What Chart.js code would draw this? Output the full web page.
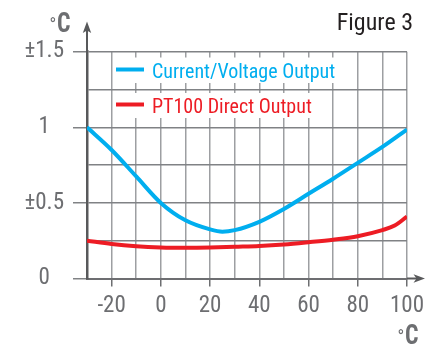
<!DOCTYPE html>
<html><head><meta charset="utf-8">
<script src="https://cdn.jsdelivr.net/npm/chart.js@4.4.1/dist/chart.umd.min.js"></script>
<style>html,body{margin:0;padding:0;background:#fff;overflow:hidden}#wrap{width:430px;height:345px;position:relative}</style>
</head><body><div id="wrap"><canvas id="c" width="430" height="345"></canvas></div>
<script>
// ---- data ----
const blueTemps = [-30, -20, -10, 0, 10, 20, 25, 30, 40, 50, 60, 70, 80, 90, 100];
const currentVoltageError = [1.0, 0.85, 0.675, 0.5, 0.385, 0.325, 0.31, 0.32, 0.375, 0.46, 0.56, 0.66, 0.765, 0.87, 0.985];
const redTemps = [-30, -20, -10, 0, 10, 20, 30, 40, 50, 60, 70, 80, 90, 95, 100];
const pt100Error = [0.25, 0.228, 0.213, 0.205, 0.203, 0.205, 0.21, 0.215, 0.225, 0.24, 0.257, 0.28, 0.32, 0.35, 0.41];
const seriesNames = ['Current/Voltage Output', 'PT100 Direct Output'];
const xLabelValues = [-20, 0, 20, 40, 60, 80, 100];
const yLabelValues = [0, 0.5, 1, 1.5];
const yLabelTexts = ['0', '±0.5', '1', '±1.5'];
const unitLabel = '°C';
const figureTitle = 'Figure 3';

const FAM = "'Roboto Condensed', 'DejaVu Sans Condensed', Roboto, sans-serif";
const BLUE = '#00aeef', RED = '#ed1c24', TXT = '#6d6e71';

const toPts = (xs, ys) => xs.map((x, i) => ({x, y: ys[i]}));

const decor = {
  id: 'decor',
  beforeDatasetsDraw(chart) {
    const {ctx} = chart;
    ctx.save();
    ctx.font = '20px ' + FAM;
    const tx = 152;
    const w1 = ctx.measureText(seriesNames[0]).width;
    const w2 = ctx.measureText(seriesNames[1]).width;
    ctx.fillStyle = '#fff';
    ctx.fillRect(113, 57.5, tx + w1 - 113, 25.5);
    ctx.fillRect(113, 93, tx + w2 - 113, 25);
    ctx.restore();
  },
  afterDatasetsDraw(chart) {
    const {ctx} = chart;
    ctx.save();
    const rows = [[BLUE, 69.5], [RED, 104.5]];
    rows.forEach(([col, yy], i) => {
      ctx.strokeStyle = col; ctx.lineWidth = 4;
      ctx.beginPath(); ctx.moveTo(116, yy); ctx.lineTo(144, yy); ctx.stroke();
      ctx.fillStyle = col; ctx.font = '20px ' + FAM; ctx.textBaseline = 'alphabetic';
      ctx.fillText(seriesNames[i], 152, yy + 8.5);
    });
    ctx.restore();
  },
  afterDraw(chart) {
    const {ctx, chartArea: ca} = chart;
    ctx.save();
    ctx.strokeStyle = '#58595b'; ctx.fillStyle = '#58595b'; ctx.lineWidth = 2;
    ctx.beginPath(); ctx.moveTo(ca.left, ca.top); ctx.lineTo(ca.left, 30); ctx.stroke();
    ctx.beginPath(); ctx.moveTo(ca.left, 21.5); ctx.lineTo(ca.left + 4.2, 33); ctx.lineTo(ca.left, 30.5); ctx.lineTo(ca.left - 4.2, 33); ctx.closePath(); ctx.fill();
    ctx.beginPath(); ctx.moveTo(ca.right, ca.bottom); ctx.lineTo(418, ca.bottom); ctx.stroke();
    ctx.beginPath(); ctx.moveTo(425, ca.bottom); ctx.lineTo(413.5, ca.bottom - 4.2); ctx.lineTo(416.5, ca.bottom); ctx.lineTo(413.5, ca.bottom + 4.2); ctx.closePath(); ctx.fill();
    const drawUnit = (x, yb) => {
      ctx.fillStyle = TXT;
      ctx.font = '18px ' + FAM; ctx.textBaseline = 'alphabetic'; ctx.textAlign = 'left';
      ctx.fillText(unitLabel[0], x, yb - 1);
      ctx.save();
      ctx.font = 'bold 28px ' + FAM;
      const w = ctx.measureText(unitLabel[1]).width;
      ctx.translate(x + 7.5, yb); ctx.scale(13.5 / w, 1);
      ctx.fillText(unitLabel[1], 0, 0);
      ctx.restore();
    };
    drawUnit(49.5, 32);
    drawUnit(397.5, 344);
    ctx.fillStyle = '#231f20'; ctx.font = '24px ' + FAM; ctx.textAlign = 'right'; ctx.textBaseline = 'alphabetic';
    ctx.fillText(figureTitle, 413, 30);
    ctx.restore();
  }
};

new Chart(document.getElementById('c'), {
  type: 'line',
  data: {
    datasets: [
      {label: seriesNames[0], data: toPts(blueTemps, currentVoltageError), borderColor: BLUE, borderWidth: 4, pointRadius: 0, cubicInterpolationMode: 'monotone', fill: false},
      {label: seriesNames[1], data: toPts(redTemps, pt100Error), borderColor: RED, borderWidth: 4, pointRadius: 0, cubicInterpolationMode: 'monotone', fill: false}
    ]
  },
  options: {
    responsive: false, animation: false, devicePixelRatio: 1,
    layout: {padding: {top: 51.7, right: 21.5, left: 0, bottom: 0}},
    plugins: {legend: {display: false}, tooltip: {enabled: false}},
    scales: {
      x: {
        type: 'linear', min: -30, max: 100,
        afterFit(s) { s.height = 66.5; },
        border: {display: true, color: '#6d6e71', width: 2},
        grid: {color: '#9d9fa2', lineWidth: 1.5, tickLength: 8,
          tickColor: c => xLabelValues.includes(c.tick.value) ? '#6d6e71' : 'rgba(0,0,0,0)'},
        ticks: {stepSize: 10, autoSkip: false, maxRotation: 0, padding: 6, color: TXT,
          font: {family: FAM, size: 23},
          callback: v => xLabelValues.includes(v) ? String(v) : ''}
      },
      y: {
        min: 0, max: 1.5,
        afterFit(s) { s.width = 87; },
        border: {display: true, color: '#58595b', width: 2.5},
        grid: {color: '#808285', lineWidth: 1.5, tickLength: 14,
          tickColor: c => yLabelValues.includes(c.tick.value) ? '#808285' : 'rgba(0,0,0,0)'},
        ticks: {stepSize: 0.25, autoSkip: false, padding: 9, crossAlign: 'center', color: TXT,
          font: {family: FAM, size: 23},
          callback: v => { const i = yLabelValues.indexOf(v); return i >= 0 ? yLabelTexts[i] : ''; }}
      }
    }
  },
  plugins: [decor]
});
</script>
</body></html>
